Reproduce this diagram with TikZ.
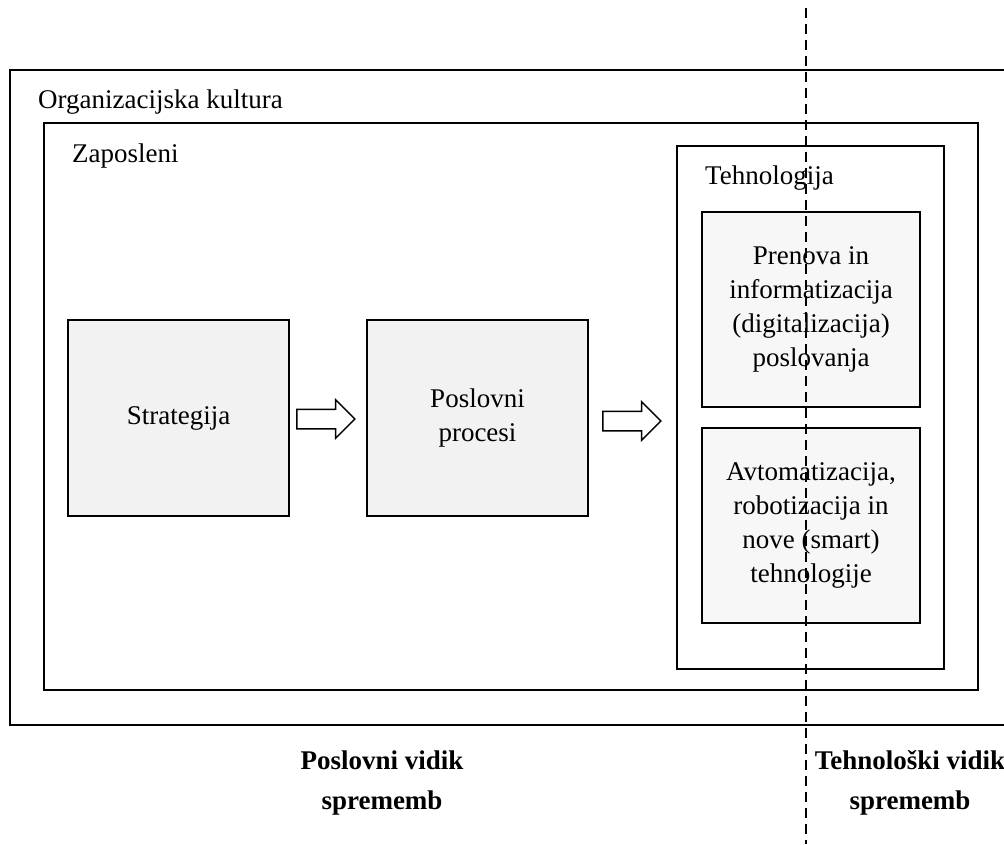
\documentclass[tikz,border=0pt]{standalone}
\usepackage{fontspec}
\setmainfont{Liberation Serif}
\usetikzlibrary{positioning,calc,shapes.arrows}

\tikzset{
  frame/.style={draw,line width=2pt},
  lbl/.style={anchor=base west,inner sep=0pt,font=\fontsize{27}{34}\selectfont},
  block/.style={draw,line width=2pt,fill=gray!10,minimum width=221pt,minimum height=196pt,
                align=center,font=\fontsize{27}{34}\selectfont},
  techblock/.style={block,fill=gray!6,minimum width=218pt,minimum height=195pt},
  fat/.style={single arrow,draw,line width=1.5pt,fill=white,inner xsep=0pt,inner ysep=9pt,
              minimum height=58pt,minimum width=37pt,single arrow head extend=9.5pt},
  aspect/.style={align=center,font=\bfseries\fontsize{27}{40}\selectfont},
  cut/.style={line width=2pt,dash pattern=on 10pt off 6pt}
}

\begin{document}
\begin{tikzpicture}[x=1pt,y=-1pt]
    \clip (0,0) rectangle (1004,844);
    \fill[white] (0,0) rectangle (1004,844);

    \draw[frame] (10,70) rectangle (1016,725);
    \node[lbl] (kultura) at (38,108) {Organizacijska kultura};
    \draw[frame] (44,123) rectangle (978,690);
    \node[lbl] (zaposleni) at (72,162) {Zaposleni};
    \draw[frame] (677,146) rectangle (944,669);
    \node[lbl] (tehnologija) at (705,184) {Tehnologija};

    \node[block]     (strat)  at (178.5,418) {Strategija};
    \node[block]     (proc)   at (477.5,418) {Poslovni\\procesi};
    \node[techblock] (prenova) at (811,309.5) {Prenova in\\informatizacija\\(digitalizacija)\\poslovanja};
    \node[techblock] (avto)   at (811,525) {Avtomatizacija,\\robotizacija in\\nove (smart)\\tehnologije};

    \node[fat] (a1) at ($(strat.east)!0.5!(proc.west)+(-7,1)$) {};
    \node[fat] (a2) at ($(proc.east)!0.5!(677,418)+(-6,3)$) {};

    \node[aspect] (poslovni) at (382,783) {Poslovni vidik\\sprememb};
    \node[aspect] (tehnoloski) at (910,783) {Tehnološki vidik\\sprememb};

    \coordinate (cuttop) at (806,8);
    \coordinate (cutbot) at (806,844);
    \draw[cut] (cuttop) -- (cutbot);
\end{tikzpicture}
\end{document}
